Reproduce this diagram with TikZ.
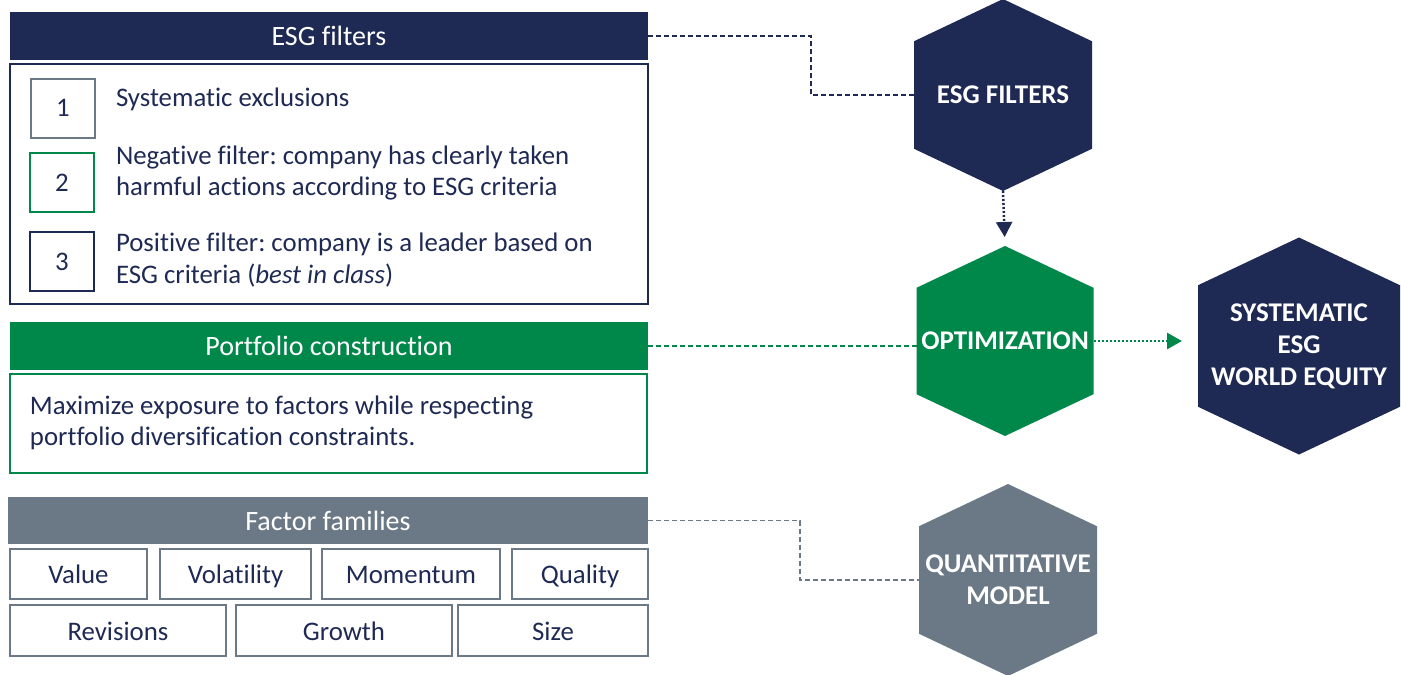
\documentclass[tikz,border=0pt]{standalone}
\usepackage{fontspec}
\setmainfont{Carlito}[Ligatures=CommonOff]
\usetikzlibrary{arrows.meta,calc,backgrounds}
\definecolor{navy}{HTML}{1F2A54}
\definecolor{esggreen}{HTML}{00874A}
\definecolor{esggray}{HTML}{6B7987}
\frenchspacing
\begin{document}
\begin{tikzpicture}[x=1pt,y=-1pt,
  every node/.style={inner sep=0pt,outer sep=0pt,font=\fontsize{26.8}{31.5}\selectfont},
  hdr/.style={minimum width=638,minimum height=48,text=white,font=\fontsize{28}{32}\selectfont,text height=19pt,text depth=0pt},
  frame/.style={draw=#1,line width=1.5pt},
  numbox/.style={draw=#1,line width=2pt,minimum width=64,minimum height=59,text=navy},
  txt/.style={text=navy,align=left,anchor=west},
  fbox/.style={draw=esggray,line width=1.5pt,minimum height=50,text=navy,text height=19pt,text depth=0pt},
  hexnode/.style={text=white,font=\fontsize{27}{32}\selectfont\bfseries,align=center},
  link/.style={line width=1.6pt,dash pattern=on 5pt off 3pt},
  flow/.style={line width=2.5pt,dash pattern=on 2pt off 2pt,-{Triangle[length=15pt,width=16pt]}}
]
\useasboundingbox (0,0) rectangle (1401,675);

% ESG filters
\node[hdr,fill=navy] (h1) at (329,36) {ESG filters};
\node[frame=navy,minimum width=638,minimum height=240] (b1) at (329,184) {};
\node[numbox=esggray] (n1) at (63,108) {1};
\node[numbox=esggreen] (n2) at (62,182.5) {2};
\node[numbox=navy] (n3) at (62,261.5) {3};
\node[txt] (t1) at (116,99) {Systematic exclusions};
\node[txt] (t2) at (116,173) {Negative filter: company has clearly taken\\harmful actions according to ESG criteria};
\node[txt] (t3) at (116,260) {Positive filter: company is a leader based on\\ESG criteria (\textit{best in class})};

% Portfolio construction
\node[hdr,fill=esggreen] (h2) at (329,346) {Portfolio construction};
\node[frame=esggreen,minimum width=637,minimum height=99] (b2) at (328.5,423.5) {};
\node[txt] (t4) at (30,423) {Maximize exposure to factors while respecting\\portfolio diversification constraints.};

% Factor families
\node[hdr,fill=esggray,minimum width=640,minimum height=47] (h3) at (328,520.5) {Factor families};
\node[fbox,minimum width=137] (f1) at (78.5,574) {Value};
\node[fbox,minimum width=151] (f2) at (235.5,574) {Volatility};
\node[fbox,minimum width=178] (f3) at (411,574) {Momentum};
\node[fbox,minimum width=136] (f4) at (580,574) {Quality};
\node[fbox,minimum width=216,minimum height=51] (f5) at (118,630.5) {Revisions};
\node[fbox,minimum width=216,minimum height=51] (f6) at (344,630.5) {Growth};
\node[fbox,minimum width=190,minimum height=51] (f7) at (553,630.5) {Size};

% Hexagons
\node[hexnode,minimum width=178,minimum height=192] (esghex) at (1003,95) {ESG FILTERS};
\node[hexnode,minimum width=177,minimum height=190] (opthex) at (1005,341) {OPTIMIZATION};
\node[hexnode,minimum width=202,minimum height=217] (syshex) at (1299,346) {SYSTEMATIC\\ESG\\WORLD EQUITY};
\node[hexnode,minimum width=178,minimum height=192] (quanthex) at (1008,580) {QUANTITATIVE\\MODEL};

\begin{scope}[on background layer]
\foreach \n/\c in {esghex/navy,opthex/esggreen,syshex/navy,quanthex/esggray}{
  \fill[\c] (\n.north) -- ($(\n.north east)!0.22!(\n.south east)$) -- ($(\n.north east)!0.78!(\n.south east)$)
    -- (\n.south) -- ($(\n.north west)!0.78!(\n.south west)$) -- ($(\n.north west)!0.22!(\n.south west)$) -- cycle;
}
\end{scope}

% Connectors
\coordinate (k1) at (811,36);
\coordinate (k3) at (800,520.5);
\draw[link,navy] (h1.east) -- (k1) |- (esghex.west);
\draw[link,esggreen] (h2.east) -- (h2.east -| opthex.west);
\draw[link,esggray] (h3.east) -- (k3) |- (quanthex.west);
\draw[flow,navy,shorten >=9pt] (esghex.south) -- (opthex.north);
\draw[flow,esggreen,shorten >=16pt] (opthex.east) -- (opthex.east -| syshex.west);
\end{tikzpicture}
\end{document}
